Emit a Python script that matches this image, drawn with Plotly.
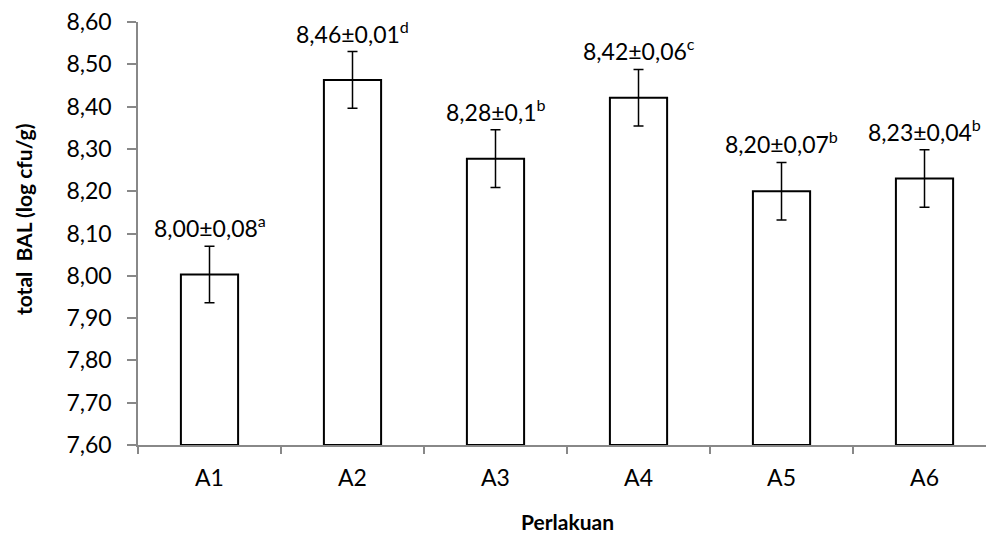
import plotly.graph_objects as go

categories = ["A1", "A2", "A3", "A4", "A5", "A6"]
means = [8.003, 8.463, 8.277, 8.421, 8.200, 8.230]
errors = [0.067, 0.067, 0.068, 0.067, 0.068, 0.068]
labels = ["8,00±0,08<sup>a</sup>", "8,46±0,01<sup>d</sup>", "8,28±0,1<sup>b</sup>",
          "8,42±0,06<sup>c</sup>", "8,20±0,07<sup>b</sup>", "8,23±0,04<sup>b</sup>"]
y_ticks = [7.60, 7.70, 7.80, 7.90, 8.00, 8.10, 8.20, 8.30, 8.40, 8.50, 8.60]
y_tick_text = ["7,60", "7,70", "7,80", "7,90", "8,00", "8,10", "8,20", "8,30", "8,40", "8,50", "8,60"]

FONT = "Lato"
FS = 23

fig = go.Figure()
fig.add_trace(go.Bar(
    x=categories, y=[m - 7.6 for m in means], base=7.6,
    width=0.40,
    marker=dict(color="white", line=dict(color="black", width=2)),
    error_y=dict(type="data", array=errors, color="black", thickness=1.5, width=5),
    hoverinfo="skip",
))

for c, m, e, t in zip(categories, means, errors, labels):
    fig.add_annotation(x=c, y=m + e, text=t, showarrow=False, yanchor="bottom",
                       yshift=2, font=dict(family=FONT, size=FS, color="black"))

# plot area in page px: x 138..986, y 22..445
fig.add_annotation(xref="paper", yref="paper", x=(23 - 138) / 848, y=(445 - 219) / 423, textangle=-90,
                   text="<b>total  BAL (log cfu/g)</b>", showarrow=False,
                   xanchor="center", yanchor="middle",
                   font=dict(family=FONT, size=21, color="black"))
fig.add_annotation(xref="paper", yref="paper", x=(567 - 138) / 848, y=(445 - 521) / 423,
                   text="<b>Perlakuan</b>", showarrow=False,
                   xanchor="center", yanchor="middle",
                   font=dict(family=FONT, size=21, color="black"))

fig.update_layout(
    width=986, height=534,
    margin=dict(l=138, r=0, t=22, b=89),
    paper_bgcolor="white", plot_bgcolor="white",
    showlegend=False,
    font=dict(family=FONT, color="black"),
)
fig.update_xaxes(
    range=[-0.5, 5.43], showline=True, linecolor="#888888", linewidth=1.5,
    ticks="outside", tickson="boundaries", ticklen=7, tickcolor="#888888", tickwidth=1.5,
    tickfont=dict(family=FONT, size=FS, color="black"), ticklabelstandoff=12,
    showgrid=False, zeroline=False, automargin=False, ticklabeloverflow="allow",
)
fig.update_yaxes(
    range=[7.6, 8.6], tickvals=y_ticks, ticktext=y_tick_text,
    showline=True, linecolor="#888888", linewidth=1.5,
    ticks="outside", ticklen=9, tickcolor="#888888", tickwidth=1.5,
    tickfont=dict(family=FONT, size=FS, color="black"), ticklabelstandoff=11,
    showgrid=False, zeroline=False, automargin=False, ticklabeloverflow="allow",
)

fig.write_html("out.html", config={"displayModeBar": False},
               post_script="document.body.style.margin='0';document.body.style.overflow='hidden';")
